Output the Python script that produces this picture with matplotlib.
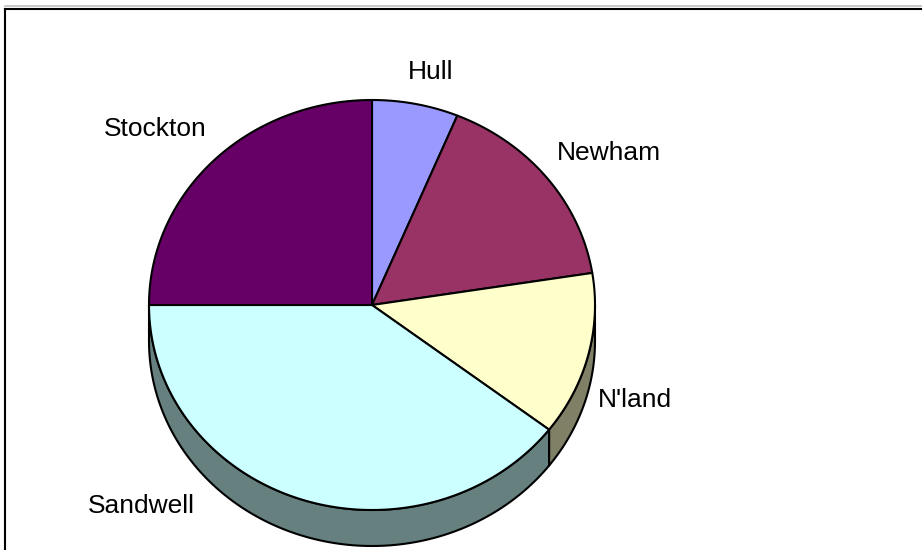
import numpy as np
import matplotlib.pyplot as plt
from matplotlib.patches import Polygon

plt.rcParams['font.family'] = ['Liberation Sans', 'DejaVu Sans']

# share of each area, drawn clockwise from 12 o'clock
areas = ['Hull', 'Newham', "N'land", 'Sandwell', 'Stockton']
shares = [6.25, 16.25, 12.9, 39.6, 25.0]
top_colors = ['#9999FF', '#993366', '#FFFFCC', '#CCFFFF', '#660066']
side_colors = ['#4D4D80', '#4D1A33', '#808066', '#668080', '#330033']
label_pos = [(431, 72), (609, 153), (635, 400), (141, 506), (155, 129)]

# pie geometry in pixel space (y grows downwards)
cx, cy = 372, 305
rx, ry = 223, 205
depth = 36


def rim(t0, t1, dy=0, n=120):
    t = np.radians(np.linspace(t0, t1, n))
    return np.column_stack([cx + rx * np.cos(t), cy - ry * np.sin(t) + dy])


fig = plt.figure(figsize=(9.22, 5.5), dpi=100)
ax = fig.add_axes([0, 0, 1, 1])
ax.set_xlim(0, 922)
ax.set_ylim(550, 0)
ax.axis('off')

# angles of slice boundaries, clockwise from 90 degrees
bounds = 90 - 360 * np.concatenate([[0], np.cumsum(shares)]) / sum(shares)
lw = 1.5

# side wall: only the front half (angles between -180 and 0) is visible
for i in range(len(areas)):
    a0, a1 = bounds[i], bounds[i + 1]
    for shift in (0, -360, 360):
        s_lo, s_hi = max(min(a0, a1) + shift, -180), min(max(a0, a1) + shift, 0)
        if s_hi > s_lo:
            front = rim(s_hi, s_lo)
            back = rim(s_lo, s_hi, depth)
            ax.add_patch(Polygon(np.vstack([front, back]), closed=True,
                                 facecolor=side_colors[i], edgecolor='black',
                                 linewidth=lw, joinstyle='round'))

# top face
for i in range(len(areas)):
    a0, a1 = bounds[i], bounds[i + 1]
    pts = np.vstack([[cx, cy], rim(a0, a1)])
    ax.add_patch(Polygon(pts, closed=True, facecolor=top_colors[i],
                         edgecolor='black', linewidth=lw, joinstyle='round'))

for name, (x, y) in zip(areas, label_pos):
    ax.text(x, y, name, fontsize=19, ha='center', va='center', color='black')

# chart frame along the top and left edge
ax.plot([5, 922], [6, 6], color='#C0C0C0', linewidth=1.2, clip_on=False)
ax.plot([5, 922], [8.5, 8.5], color='black', linewidth=1.5, clip_on=False)
ax.plot([5, 5], [8.5, 550], color='black', linewidth=1.5, clip_on=False)

fig.savefig('out.png', dpi=100)
